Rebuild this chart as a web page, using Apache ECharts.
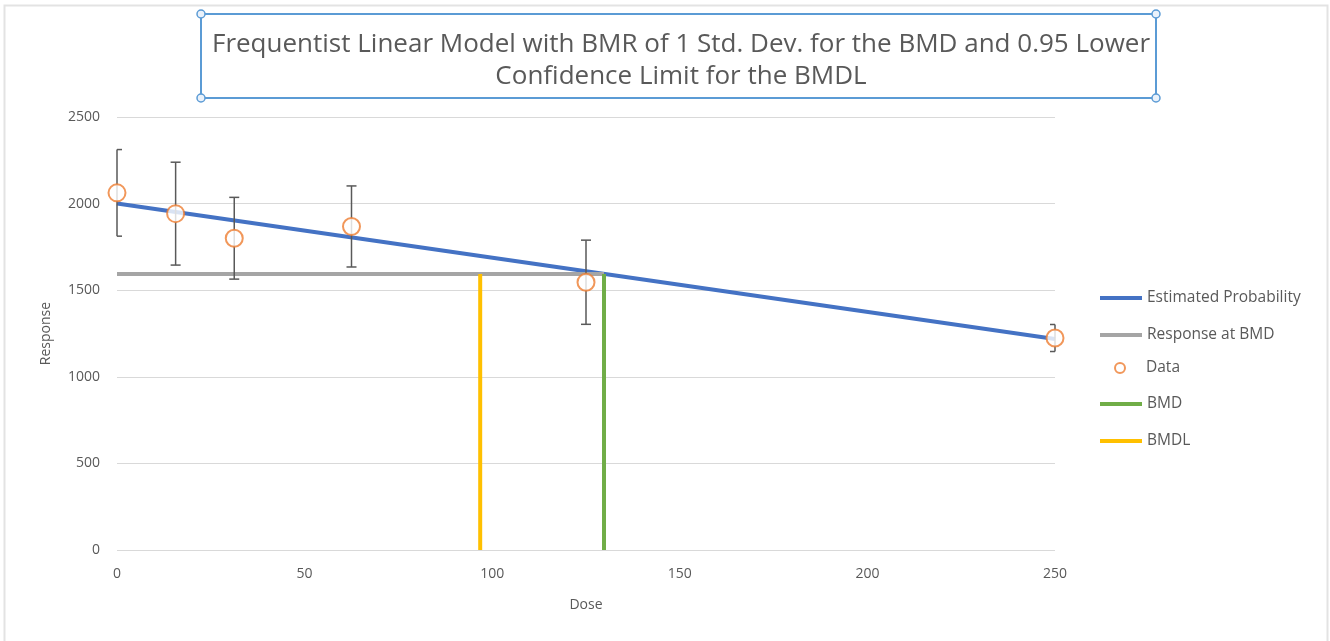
<!DOCTYPE html>
<html>
<head>
<meta charset="utf-8">
<script src="https://cdn.jsdelivr.net/npm/echarts@6/dist/echarts.min.js"></script>
<style>
html,body{margin:0;padding:0;background:#fff;}
#chart{width:1330px;height:641px;}
</style>
</head>
<body>
<div id="chart"></div>
<script>
// ---- data ----
var titleText = 'Frequentist Linear Model with BMR of 1 Std. Dev. for the BMD and 0.95 Lower\nConfidence Limit for the BMDL';
var doses = [0, 15.625, 31.25, 62.5, 125, 250];
var means = [2062, 1942, 1800, 1868, 1546, 1224];
var errs = [250, 297, 236, 234, 243, 78];
var fitDoses = [0, 250];
var fitResp = [2000, 1218];
var bmd = 129.8;
var bmdl = 96.8;
var respAtBmd = 1594;
var xTicks = [0, 50, 100, 150, 200, 250];
var yTicks = [0, 500, 1000, 1500, 2000, 2500];

var fitData = fitDoses.map(function (d, i) { return [d, fitResp[i]]; });
var respData = [[0, respAtBmd], [bmd, respAtBmd]];
var scatterData = doses.map(function (d, i) { return [d, means[i]]; });
var errData = doses.map(function (d, i) { return [d, means[i] - errs[i], means[i] + errs[i]]; });
var bmdData = [[bmd, 0], [bmd, respAtBmd]];
var bmdlData = [[bmdl, 0], [bmdl, respAtBmd]];

var txt = '#595959';
var font = 'Open Sans';
var chart = echarts.init(document.getElementById('chart'));
var handles = [[201, 14], [1156, 14], [201, 98], [1156, 98]].map(function (p) {
  return { type: 'circle', shape: { cx: p[0], cy: p[1], r: 4 }, style: { fill: '#eaf2fb', stroke: '#5b9bd5', lineWidth: 1.5 }, z: 100 };
});
function legendBase(left, top, items, icon, h) {
  return {
    orient: 'vertical', left: left, top: top,
    itemWidth: 42, itemHeight: h, itemGap: 21, icon: icon,
    textStyle: { fontFamily: font, fontSize: 15.5, color: txt, lineHeight: 14 },
    data: items
  };
}
chart.setOption({
  backgroundColor: '#fff',
  animation: false,
  graphic: [
    { type: 'rect', shape: { x: 4.5, y: 5.5, width: 1323, height: 640 }, style: { fill: 'none', stroke: '#e3e3e3', lineWidth: 2 }, z: 0 },
    { type: 'rect', shape: { x: 201, y: 14, width: 955, height: 84 }, style: { fill: 'none', stroke: '#5b9bd5', lineWidth: 2 }, z: 99 }
  ].concat(handles),
  title: {
    text: titleText,
    left: 676,
    top: 24,
    textAlign: 'center',
    textStyle: { fontFamily: font, fontSize: 26, fontWeight: 'normal', color: txt, lineHeight: 32 }
  },
  grid: { left: 117, right: 275, top: 117, bottom: 91, containLabel: false },
  legend: [
    legendBase(1095, 285, ['Estimated Probability', 'Response at BMD'], 'rect', 4),
    legendBase(1109, 355, ['Data'], 'emptyCircle', 10),
    legendBase(1095, 391, ['BMD', 'BMDL'], 'rect', 4)
  ],
  xAxis: {
    type: 'value', min: 0, max: 250, interval: 50,
    name: 'Dose', nameLocation: 'middle', nameGap: 48,
    nameTextStyle: { fontFamily: font, fontSize: 14, color: txt },
    axisLine: { show: false }, axisTick: { show: false },
    axisLabel: { fontFamily: font, fontSize: 14, color: txt, margin: 17, formatter: function (v) { return String(v); } },
    splitLine: { show: false }
  },
  yAxis: {
    type: 'value', min: 0, max: 2500, interval: 500,
    name: 'Response', nameLocation: 'middle', nameGap: 64,
    nameTextStyle: { fontFamily: font, fontSize: 14, color: txt },
    axisLine: { show: false }, axisTick: { show: false },
    axisLabel: { fontFamily: font, fontSize: 14, color: txt, margin: 17, formatter: function (v) { return String(v); } },
    splitLine: { show: true, lineStyle: { color: '#d9d9d9', width: 1 } }
  },
  series: [
    { name: 'Estimated Probability', type: 'line', data: fitData, symbol: 'none', lineStyle: { color: '#4472c4', width: 4 }, itemStyle: { color: '#4472c4' }, z: 2 },
    { name: 'Response at BMD', type: 'line', data: respData, symbol: 'none', lineStyle: { color: '#a5a5a5', width: 4 }, itemStyle: { color: '#a5a5a5' }, z: 2 },
    {
      name: 'DataErr', type: 'custom', data: errData, z: 3,
      itemStyle: { color: '#595959' },
      renderItem: function (params, api) {
        var x = api.value(0);
        var lo = api.coord([x, api.value(1)]);
        var hi = api.coord([x, api.value(2)]);
        var cs = params.coordSys;
        var l = Math.max(lo[0] - 5, cs.x), r = Math.min(lo[0] + 5, cs.x + cs.width);
        var st = { stroke: '#595959', lineWidth: 1.5 };
        return { type: 'group', children: [
          { type: 'line', shape: { x1: lo[0], y1: lo[1], x2: hi[0], y2: hi[1] }, style: st },
          { type: 'line', shape: { x1: l, y1: lo[1], x2: r, y2: lo[1] }, style: st },
          { type: 'line', shape: { x1: l, y1: hi[1], x2: r, y2: hi[1] }, style: st }
        ] };
      }
    },
    { name: 'Data', type: 'scatter', data: scatterData, symbol: 'emptyCircle', symbolSize: 17, itemStyle: { color: '#ed7d31', borderColor: '#ed7d31', borderWidth: 2 }, z: 4 },
    { name: 'BMD', type: 'line', data: bmdData, symbol: 'none', lineStyle: { color: '#70ad47', width: 4 }, itemStyle: { color: '#70ad47' }, z: 5 },
    { name: 'BMDL', type: 'line', data: bmdlData, symbol: 'none', lineStyle: { color: '#ffc000', width: 4 }, itemStyle: { color: '#ffc000' }, z: 5 }
  ]
});
</script>
</body>
</html>
